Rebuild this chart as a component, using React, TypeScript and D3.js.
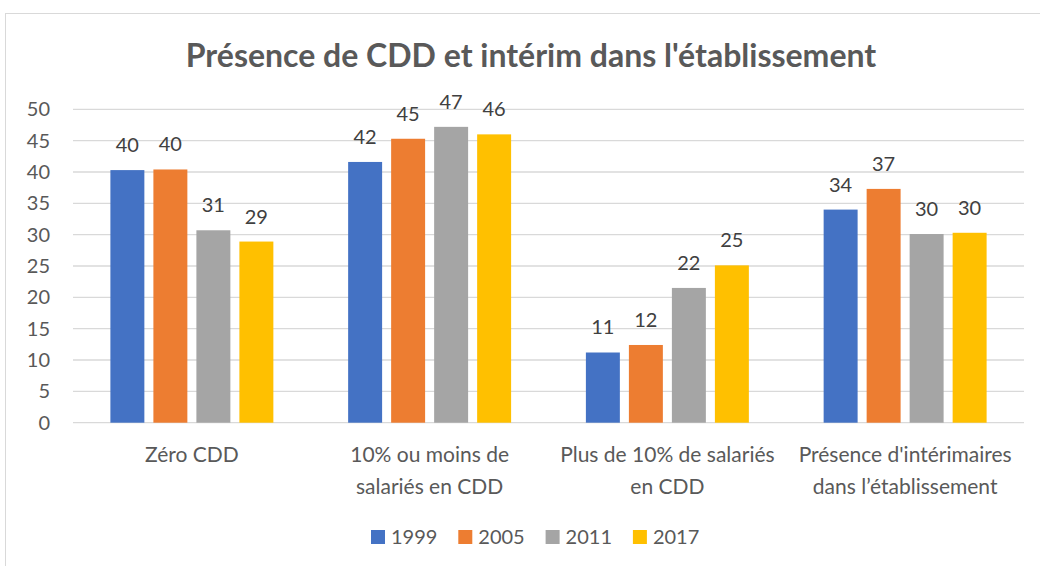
import React, { useEffect, useRef } from 'react';
import * as d3 from 'd3';

const categories = [
  ['Zéro CDD'],
  ['10% ou moins de', 'salariés en CDD'],
  ['Plus de 10% de salariés', 'en CDD'],
  ["Présence d'intérimaires", 'dans l’établissement'],
];
const years = ['1999', '2005', '2011', '2017'];
const colors = ['#4472C4', '#ED7D31', '#A5A5A5', '#FFC000'];
const values1999 = [40.3, 41.6, 11.2, 34.0];
const values2005 = [40.4, 45.3, 12.4, 37.3];
const values2011 = [30.7, 47.2, 21.5, 30.1];
const values2017 = [28.9, 46.0, 25.1, 30.3];
const yTicks = [0, 5, 10, 15, 20, 25, 30, 35, 40, 45, 50];

const W = 1040;
const H = 566;
const font = 'Lato, "Open Sans", sans-serif';

const App = () => {
  const ref = useRef<SVGSVGElement>(null);

  useEffect(() => {
    const svg = d3.select(ref.current);
    svg.selectAll('*').remove();

    const series = [values1999, values2005, values2011, values2017];
    const left = 73, right = 1024, top = 109.3, bottom = 422.7;

    // chart frame (only top and left edges visible)
    svg.append('rect')
      .attr('x', 5.5).attr('y', 13.5)
      .attr('width', W + 20).attr('height', H + 20)
      .attr('fill', '#fff').attr('stroke', '#d9d9d9');

    svg.append('text')
      .attr('x', 531).attr('y', 67)
      .attr('text-anchor', 'middle')
      .style('font-family', font).style('font-weight', 'bold')
      .style('font-size', '32px').attr('fill', '#595959')
      .text("Présence de CDD et intérim dans l'établissement");

    const y = d3.scaleLinear().domain([0, 50]).range([bottom, top]);
    const x0 = d3.scaleBand<number>().domain(d3.range(categories.length)).range([left, right]);
    const x1 = d3.scaleBand<number>().domain(d3.range(years.length))
      .range([0, 172]).paddingInner(0.21).paddingOuter(0.105);

    svg.append('g').selectAll('line').data(yTicks).join('line')
      .attr('x1', left).attr('x2', right)
      .attr('y1', d => y(d)).attr('y2', d => y(d))
      .attr('stroke', '#d9d9d9').attr('stroke-width', 1.3);

    svg.append('g').selectAll('text').data(yTicks).join('text')
      .attr('x', 50).attr('y', d => y(d) + 7)
      .attr('text-anchor', 'end')
      .style('font-family', font).style('font-size', '20px').attr('fill', '#595959')
      .text(d => d);

    const groups = svg.append('g').selectAll('g').data(categories).join('g')
      .attr('transform', (_, i) => `translate(${x0(i)! + x0.bandwidth() / 2 - 86},0)`);

    groups.each(function (_, ci) {
      const g = d3.select(this);
      series.forEach((s, si) => {
        const v = s[ci];
        g.append('rect')
          .attr('x', x1(si)!).attr('y', y(v))
          .attr('width', x1.bandwidth()).attr('height', y(0) - y(v))
          .attr('fill', colors[si]);
        g.append('text')
          .attr('x', x1(si)! + x1.bandwidth() / 2).attr('y', y(v) - 18)
          .attr('text-anchor', 'middle')
          .style('font-family', font).style('font-size', '20px').attr('fill', '#404040')
          .text(Math.round(v));
      });
    });

    svg.append('g').selectAll('text').data(categories).join('text')
      .attr('x', (_, i) => x0(i)! + x0.bandwidth() / 2)
      .attr('y', 462)
      .attr('text-anchor', 'middle')
      .style('font-family', font).style('font-size', '21px').attr('fill', '#595959')
      .each(function (lines) {
        const t = d3.select(this);
        lines.forEach((l, li) => {
          t.append('tspan')
            .attr('x', t.attr('x')).attr('dy', li === 0 ? 0 : 32)
            .text(l);
        });
      });

    const legend = svg.append('g').selectAll('g').data(years).join('g')
      .attr('transform', (_, i) => `translate(${371 + i * 87.3},530)`);
    legend.append('rect').attr('width', 14).attr('height', 14).attr('fill', (_, i) => colors[i]);
    legend.append('text')
      .attr('x', 20).attr('y', 14)
      .style('font-family', font).style('font-size', '20px').attr('fill', '#595959')
      .text(d => d);
  }, []);

  return (
    <svg ref={ref} width={W} height={H}
      style={{ position: 'absolute', left: 0, top: 0, background: '#fff' }} />
  );
};

export default App;
